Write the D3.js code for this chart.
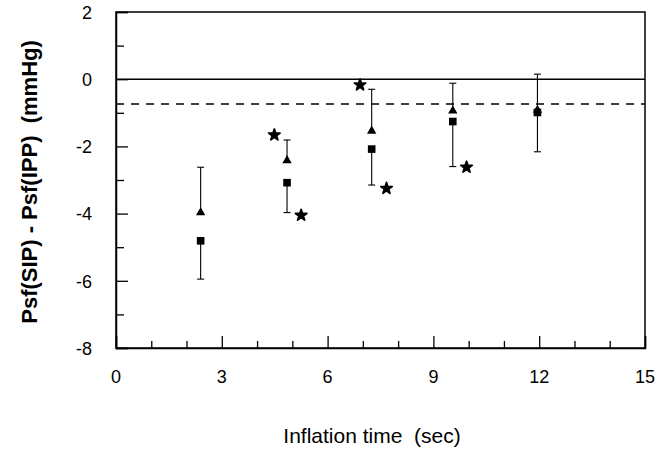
<!DOCTYPE html>
<html>
<head>
<meta charset="utf-8">
<script src="https://cdn.jsdelivr.net/npm/d3@7"></script>
<style>
  body { margin: 0; background: #fff; }
  svg { display: block; }
  text { font-family: "Liberation Sans", Arial, Helvetica, sans-serif; fill: #000; }
</style>
</head>
<body>
<div id="chart-container"></div>
<script>
// Values
const times = [2.4, 4.85, 7.25, 9.55, 11.95];
const triangleMean = [-3.97, -2.42, -1.54, -0.94, -0.92];
const triangleUpper = [-2.62, -1.81, -0.30, -0.12, 0.15];
const squareMean = [-4.81, -3.08, -2.08, -1.26, -0.99];
const squareLower = [-5.95, -3.97, -3.15, -2.60, -2.16];
const starX = [4.49, 5.25, 6.92, 7.67, 9.94];
const starY = [-1.66, -4.05, -0.17, -3.25, -2.62];
const dashedLevel = -0.74;
const xTickLabels = [0, 3, 6, 9, 12, 15];
const yTickLabels = [2, 0, -2, -4, -6, -8];

const width = 668;
const height = 452;
const margin = { top: 12, right: 23, bottom: 104, left: 116 };
const innerW = width - margin.left - margin.right;
const innerH = height - margin.top - margin.bottom;

const svg = d3.select('#chart-container')
  .append('svg')
  .attr('width', width)
  .attr('height', height);

const chart = svg.append('g')
  .attr('transform', `translate(${margin.left}, ${margin.top})`);

const xScale = d3.scaleLinear().domain([0, 15]).range([0, innerW]);
const yScale = d3.scaleLinear().domain([-8, 2]).range([innerH, 0]);

// Frame (top and right)
chart.append('rect')
  .attr('x', 0).attr('y', 0)
  .attr('width', innerW).attr('height', innerH)
  .attr('fill', 'none')
  .attr('stroke', '#000')
  .attr('stroke-width', 1.5);

// Minor and major ticks pointing inward
const xMinor = d3.range(1, 15).filter(v => v % 3 !== 0);
const yMinor = d3.range(-7, 2, 2);

chart.append('g')
  .attr('transform', `translate(0, ${innerH})`)
  .call(d3.axisTop(xScale).tickValues(xMinor).tickSize(7).tickFormat(''))
  .call(g => g.select('.domain').remove());

chart.append('g')
  .attr('transform', `translate(0, ${innerH})`)
  .call(d3.axisTop(xScale).tickValues(xTickLabels).tickSize(12).tickFormat(''))
  .call(g => g.select('.domain').attr('stroke-width', 1.5));

chart.append('g')
  .call(d3.axisRight(yScale).tickValues(yMinor).tickSize(8).tickFormat(''))
  .call(g => g.select('.domain').remove());

chart.append('g')
  .call(d3.axisRight(yScale).tickValues(yTickLabels).tickSize(12).tickFormat(''))
  .call(g => g.select('.domain').attr('stroke-width', 1.5));

chart.selectAll('.tick line').attr('stroke-width', 1.3);

// Tick labels
chart.selectAll('.x-label')
  .data(xTickLabels)
  .enter()
  .append('text')
  .attr('x', d => xScale(d))
  .attr('y', innerH + 35)
  .attr('text-anchor', 'middle')
  .attr('font-size', 18)
  .text(d => d);

chart.selectAll('.y-label')
  .data(yTickLabels)
  .enter()
  .append('text')
  .attr('x', -24)
  .attr('y', d => yScale(d))
  .attr('dy', '0.38em')
  .attr('text-anchor', 'end')
  .attr('font-size', 18)
  .text(d => d);

// Reference lines
chart.append('line')
  .attr('x1', 0).attr('x2', innerW)
  .attr('y1', yScale(0)).attr('y2', yScale(0))
  .attr('stroke', '#000')
  .attr('stroke-width', 1.5);

chart.append('line')
  .attr('x1', 0).attr('x2', innerW)
  .attr('y1', yScale(dashedLevel)).attr('y2', yScale(dashedLevel))
  .attr('stroke', '#000')
  .attr('stroke-width', 1.4)
  .attr('stroke-dasharray', '8,7');

// Error bars
const cap = 3.5;
const bars = times.map((t, i) => ({ t, top: triangleUpper[i], mid: triangleMean[i] }))
  .concat(times.map((t, i) => ({ t, top: squareMean[i], mid: squareLower[i] })));

chart.selectAll('.err')
  .data(bars)
  .enter()
  .append('path')
  .attr('fill', 'none')
  .attr('stroke', '#000')
  .attr('stroke-width', 1.1)
  .attr('d', d => `M${xScale(d.t)},${yScale(d.top)}V${yScale(d.mid)}`);

// Caps at the far end of each bar
const caps = times.map((t, i) => ({ t, v: triangleUpper[i] }))
  .concat(times.map((t, i) => ({ t, v: squareLower[i] })));

chart.selectAll('.cap')
  .data(caps)
  .enter()
  .append('line')
  .attr('x1', d => xScale(d.t) - cap)
  .attr('x2', d => xScale(d.t) + cap)
  .attr('y1', d => yScale(d.v))
  .attr('y2', d => yScale(d.v))
  .attr('stroke', '#000')
  .attr('stroke-width', 1.1);

// Triangles
chart.selectAll('.tri')
  .data(times.map((t, i) => ({ t, v: triangleMean[i] })))
  .enter()
  .append('path')
  .attr('transform', d => `translate(${xScale(d.t)}, ${yScale(d.v)})`)
  .attr('d', d3.symbol().type(d3.symbolTriangle).size(38))
  .attr('fill', '#000');

// Squares
chart.selectAll('.sq')
  .data(times.map((t, i) => ({ t, v: squareMean[i] })))
  .enter()
  .append('path')
  .attr('transform', d => `translate(${xScale(d.t)}, ${yScale(d.v)})`)
  .attr('d', d3.symbol().type(d3.symbolSquare).size(58))
  .attr('fill', '#000');

// Stars
chart.selectAll('.star')
  .data(starX.map((x, i) => ({ x, y: starY[i] })))
  .enter()
  .append('path')
  .attr('transform', d => `translate(${xScale(d.x)}, ${yScale(d.y)})`)
  .attr('d', d3.symbol().type(d3.symbolStar).size(40))
  .attr('fill', '#000')
  .attr('stroke', '#000')
  .attr('stroke-width', 1.8)
  .attr('stroke-linejoin', 'round');

// Axis titles
svg.append('text')
  .attr('x', 372)
  .attr('y', 443)
  .attr('text-anchor', 'middle')
  .attr('font-size', 21)
  .attr('xml:space', 'preserve')
  .text('Inflation time  (sec)');

svg.append('text')
  .attr('transform', 'translate(37, 182) rotate(-90)')
  .attr('text-anchor', 'middle')
  .attr('font-size', 22)
  .attr('font-weight', 'bold')
  .attr('xml:space', 'preserve')
  .text('Psf(SIP) - Psf(IPP)  (mmHg)');
</script>
</body>
</html>
